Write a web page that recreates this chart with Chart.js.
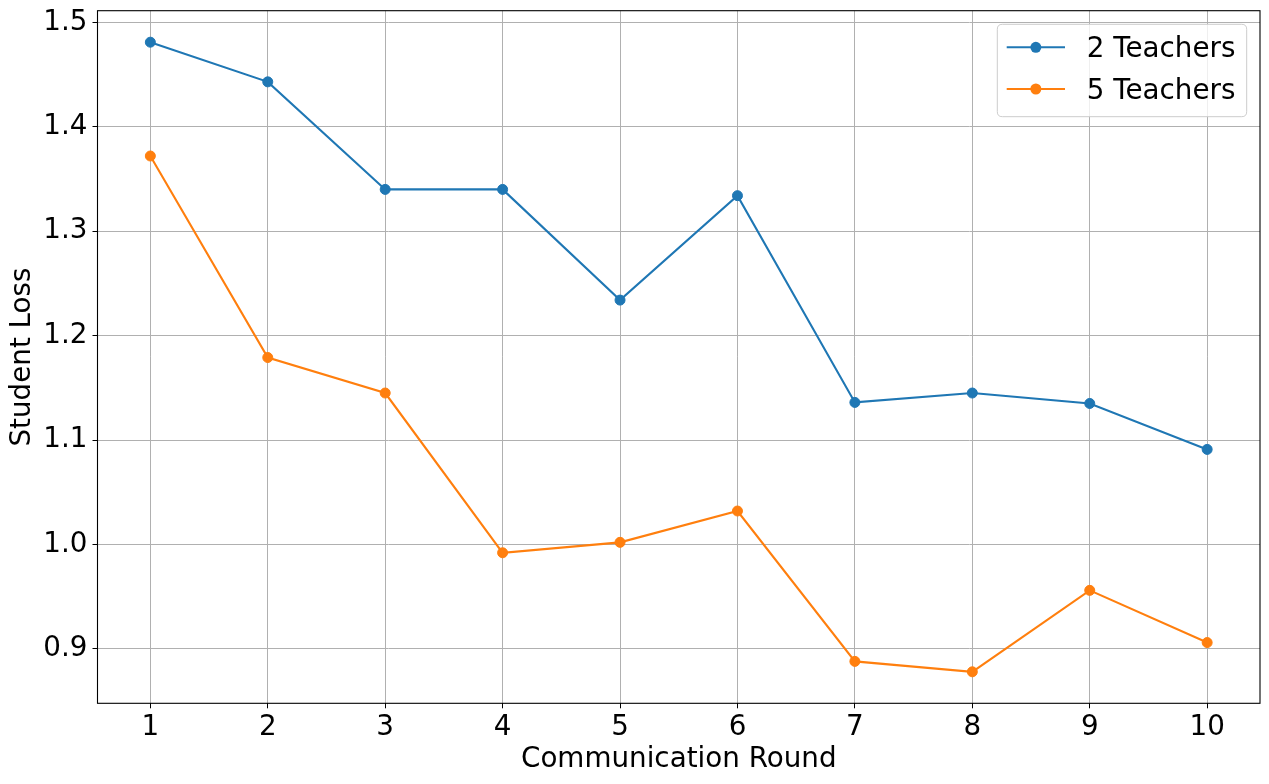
<!DOCTYPE html>
<html>
<head>
<meta charset="utf-8">
<script src="https://cdn.jsdelivr.net/npm/chart.js@4/dist/chart.umd.min.js"></script>
<style>
  html, body { margin: 0; padding: 0; background: #ffffff; }
  #wrap { width: 1269px; height: 784px; }
</style>
</head>
<body>
<div id="wrap"><canvas id="c" width="1269" height="784"></canvas></div>
<script>
// ---- Data ----
const rounds = [1, 2, 3, 4, 5, 6, 7, 8, 9, 10];
const twoTeachers = [1.481, 1.443, 1.340, 1.340, 1.234, 1.334, 1.136, 1.145, 1.135, 1.091];
const fiveTeachers = [1.372, 1.179, 1.145, 0.992, 1.002, 1.032, 0.888, 0.878, 0.956, 0.906];
const seriesLabels = ['2 Teachers', '5 Teachers'];
const xTicks = [1, 2, 3, 4, 5, 6, 7, 8, 9, 10];
const yTicks = [0.9, 1.0, 1.1, 1.2, 1.3, 1.4, 1.5];
const xTitle = 'Communication Round';
const yTitle = 'Student Loss';

const FONT = "'DejaVu Sans', 'Liberation Sans', sans-serif";
const FS = 27.78;
const colors = ['#1f77b4', '#ff7f0e'];

function toPoints(xs, ys) { return xs.map((x, i) => ({ x: x, y: ys[i] })); }

// matplotlib-like 5% margins
const allY = twoTeachers.concat(fiveTeachers);
const yLo = Math.min(...allY), yHi = Math.max(...allY);
const yPad = (yHi - yLo) * 0.05;
const xLo = Math.min(...rounds), xHi = Math.max(...rounds);
const xPad = (xHi - xLo) * 0.05;

const framePlugin = {
  id: 'frame',
  afterDatasetsDraw(chart) {
    const { ctx, chartArea: a } = chart;
    ctx.save();
    ctx.strokeStyle = '#000';
    ctx.lineWidth = 1.1;
    ctx.strokeRect(a.left, a.top, a.right - a.left, a.bottom - a.top);
    ctx.restore();
  }
};

const legendPlugin = {
  id: 'mplLegend',
  afterDraw(chart) {
    const { ctx, chartArea: a } = chart;
    const bx1 = a.right - 13.3, by0 = a.top + 13.6;
    const bx0 = bx1 - 249.4, by1 = by0 + 92.4;
    const r = 5;
    ctx.save();
    ctx.beginPath();
    ctx.moveTo(bx0 + r, by0);
    ctx.lineTo(bx1 - r, by0);
    ctx.quadraticCurveTo(bx1, by0, bx1, by0 + r);
    ctx.lineTo(bx1, by1 - r);
    ctx.quadraticCurveTo(bx1, by1, bx1 - r, by1);
    ctx.lineTo(bx0 + r, by1);
    ctx.quadraticCurveTo(bx0, by1, bx0, by1 - r);
    ctx.lineTo(bx0, by0 + r);
    ctx.quadraticCurveTo(bx0, by0, bx0 + r, by0);
    ctx.closePath();
    ctx.fillStyle = 'rgba(255,255,255,0.8)';
    ctx.fill();
    ctx.strokeStyle = '#cccccc';
    ctx.lineWidth = 1;
    ctx.stroke();
    chart.data.datasets.forEach((ds, i) => {
      const y = by0 + 23 + i * 41.7;
      const lx0 = bx0 + 9.4, lx1 = bx0 + 67.7;
      ctx.strokeStyle = ds.borderColor;
      ctx.lineWidth = ds.borderWidth;
      ctx.beginPath();
      ctx.moveTo(lx0, y);
      ctx.lineTo(lx1, y);
      ctx.stroke();
      ctx.fillStyle = ds.pointBackgroundColor;
      ctx.beginPath();
      ctx.arc((lx0 + lx1) / 2, y, 5.5, 0, Math.PI * 2);
      ctx.fill();
      ctx.fillStyle = '#000';
      ctx.font = FS + 'px ' + FONT;
      ctx.textAlign = 'left';
      ctx.textBaseline = 'alphabetic';
      ctx.fillText(ds.label, bx0 + 89.4, y + 10);
    });
    ctx.restore();
  }
};

function zeroPad(scale) {
  scale.paddingTop = 0; scale.paddingBottom = 0;
  scale.paddingLeft = 0; scale.paddingRight = 0;
}

new Chart(document.getElementById('c'), {
  type: 'line',
  data: {
    datasets: [
      {
        label: seriesLabels[0],
        data: toPoints(rounds, twoTeachers),
        borderColor: colors[0], backgroundColor: colors[0],
        pointBackgroundColor: colors[0], pointBorderColor: colors[0],
        borderWidth: 2.1, pointRadius: 5, pointBorderWidth: 1, tension: 0, fill: false
      },
      {
        label: seriesLabels[1],
        data: toPoints(rounds, fiveTeachers),
        borderColor: colors[1], backgroundColor: colors[1],
        pointBackgroundColor: colors[1], pointBorderColor: colors[1],
        borderWidth: 2.1, pointRadius: 5, pointBorderWidth: 1, tension: 0, fill: false
      }
    ]
  },
  options: {
    responsive: false,
    animation: false,
    events: [],
    layout: { padding: { left: 0, right: 9, top: 10.7, bottom: 0 } },
    plugins: { legend: { display: false }, tooltip: { enabled: false } },
    scales: {
      x: {
        type: 'linear',
        min: xLo - xPad, max: xHi + xPad,
        afterBuildTicks: (s) => { s.ticks = xTicks.map(v => ({ value: v })); },
        afterFit: (s) => { s.height = 80.7; zeroPad(s); },
        ticks: {
          color: '#000', font: { family: FONT, size: FS, lineHeight: 1.2 },
          padding: 3, maxRotation: 0, autoSkip: false,
          callback: (v) => String(v)
        },
        grid: { color: '#b0b0b0', lineWidth: 1, drawTicks: true, tickLength: 5, tickColor: '#000', tickWidth: 1 },
        border: { display: false },
        title: { display: true, text: xTitle, color: '#000', font: { family: FONT, size: FS, lineHeight: 1.2 }, padding: { top: 0, bottom: 8 } }
      },
      y: {
        type: 'linear',
        min: yLo - yPad, max: yHi + yPad,
        afterBuildTicks: (s) => { s.ticks = yTicks.map(v => ({ value: v })); },
        afterFit: (s) => { s.width = 97.5; zeroPad(s); },
        ticks: {
          color: '#000', font: { family: FONT, size: FS, lineHeight: 1.2 },
          padding: 5, autoSkip: false,
          callback: (v) => Number(v).toFixed(1)
        },
        grid: { color: '#b0b0b0', lineWidth: 1, drawTicks: true, tickLength: 5, tickColor: '#000', tickWidth: 1 },
        border: { display: false },
        title: { display: true, text: yTitle, color: '#000', font: { family: FONT, size: FS, lineHeight: 1.2 }, padding: { top: 6, bottom: 0 } }
      }
    }
  },
  plugins: [framePlugin, legendPlugin]
});
</script>
</body>
</html>
